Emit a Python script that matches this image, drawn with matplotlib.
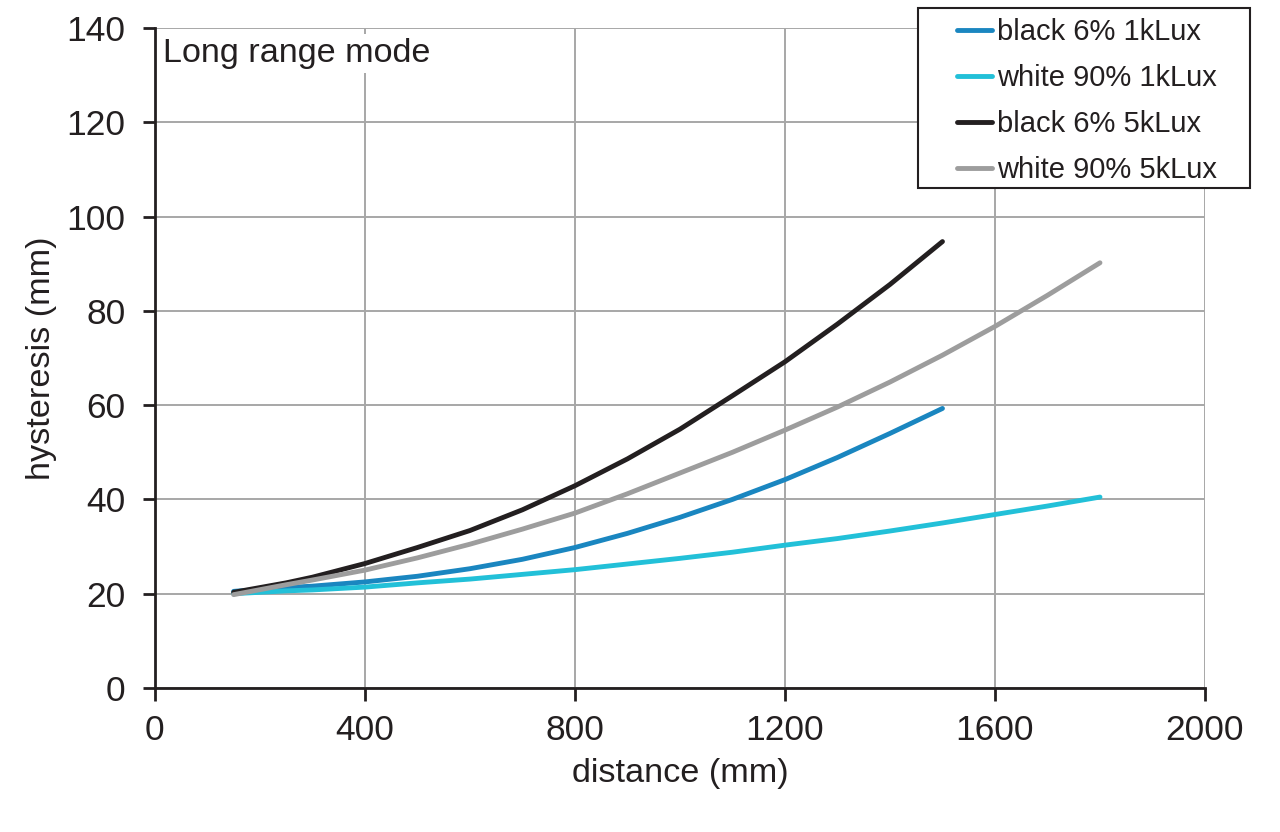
import matplotlib
matplotlib.use("Agg")
import matplotlib.pyplot as plt
from matplotlib.patches import Rectangle

plt.rcParams['font.family'] = ['Liberation Sans', 'DejaVu Sans']

# distances (mm)
x_1500 = [150, 250, 300, 400, 500, 600, 700, 800, 900, 1000, 1100, 1200, 1300, 1400, 1500]
x_1800 = [150, 250, 300, 400, 500, 600, 700, 800, 900, 1000, 1100, 1200, 1300, 1400, 1500, 1600, 1700, 1800]

black_1k = [20.5, 21.3, 21.6, 22.5, 23.7, 25.3, 27.3, 29.8, 32.8, 36.2, 40.0, 44.2, 48.9, 54.0, 59.3]
white_1k = [20.0, 20.6, 20.8, 21.4, 22.3, 23.1, 24.1, 25.1, 26.3, 27.5, 28.8, 30.3, 31.7, 33.3, 35.0, 36.8, 38.6, 40.5]
black_5k = [20.3, 22.3, 23.5, 26.4, 29.8, 33.4, 37.8, 42.9, 48.6, 54.9, 62.0, 69.2, 77.2, 85.6, 94.7]
white_5k = [19.8, 21.9, 22.9, 25.0, 27.6, 30.5, 33.7, 37.1, 41.2, 45.6, 50.0, 54.7, 59.6, 64.9, 70.6, 76.7, 83.3, 90.2]

labels = ['black 6% 1kLux', 'white 90% 1kLux', 'black 6% 5kLux', 'white 90% 5kLux']
colors = ['#1a86c0', '#22c0d8', '#231f20', '#9d9d9d']

fig = plt.figure(figsize=(12.8, 8.32), dpi=100)
ax = fig.add_axes([0.121, 0.1731, 0.8204, 0.7932])

series = [(x_1500, black_1k), (x_1800, white_1k), (x_1500, black_5k), (x_1800, white_5k)]
handles = []
for (xs, ys), lab, col in zip(series, labels, colors):
    h, = ax.plot(xs, ys, color=col, lw=3.5, label=lab, solid_capstyle='round', zorder=3)
    handles.append(h)

ax.set_xlim(0, 2000)
ax.set_ylim(0, 140)
ax.set_xticks(range(0, 2001, 400))
ax.set_yticks(range(0, 141, 20))
ax.grid(True, color='#a7a7a7', lw=1.4, zorder=0)
ax.set_axisbelow(True)

for s in ['top', 'right']:
    ax.spines[s].set_visible(False)
for s in ['left', 'bottom']:
    ax.spines[s].set_linewidth(2)
    ax.spines[s].set_color('#231f20')
ax.tick_params(length=9, width=2, labelsize=25.5, color='#231f20', labelcolor='#231f20', pad=10)
ax.tick_params(axis='y', pad=12)

ax.set_xlabel('distance (mm)', fontsize=24.7, color='#231f20', labelpad=8)
ax.set_ylabel('hysteresis (mm)', fontsize=24.7, color='#231f20', labelpad=7)

ax.text(0.008, 0.985, 'Long range mode', transform=ax.transAxes, fontsize=24.6,
        color='#231f20', va='top', ha='left',
        bbox=dict(facecolor='white', edgecolor='none', pad=3), zorder=4)

# legend box
box = Rectangle((918 / 1280, 1 - 188 / 832), 332 / 1280, 180 / 832, transform=fig.transFigure,
                facecolor='white', edgecolor='#231f20', lw=1.5, zorder=4)
fig.patches.append(box)

leg = fig.legend(handles=handles, labels=labels, loc='center',
                 bbox_to_anchor=(1087 / 1280, 1 - 101 / 832), bbox_transform=fig.transFigure,
                 fontsize=21, frameon=False, borderpad=0, borderaxespad=0,
                 handlelength=1.2, handletextpad=0.15, labelspacing=0.62)
leg.set_zorder(5)
for t in leg.get_texts():
    t.set_color('#231f20')

fig.savefig('out.png', dpi=100)
